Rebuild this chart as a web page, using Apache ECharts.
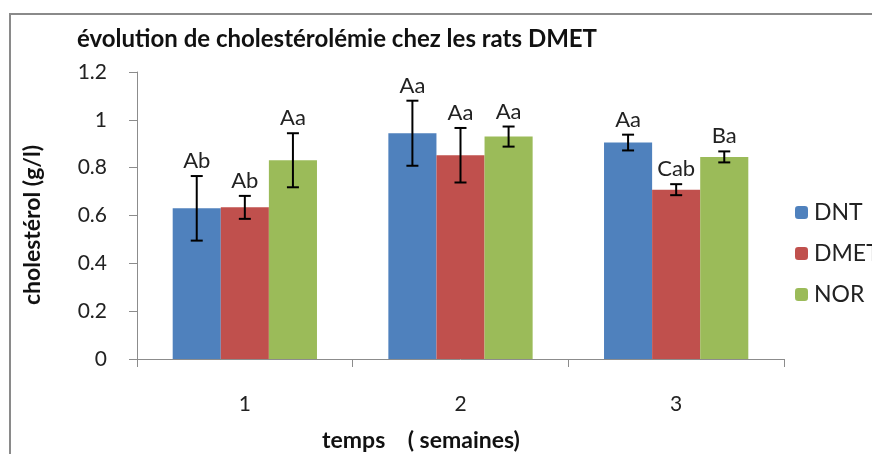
<!DOCTYPE html>
<html>
<head>
<meta charset="utf-8">
<script src="https://cdn.jsdelivr.net/npm/echarts@6/dist/echarts.min.js"></script>
<style>
  html, body { margin: 0; padding: 0; background: #fff; }
  #chart { width: 872px; height: 454px; }
</style>
</head>
<body>
<div id="chart"></div>
<script>
// Weeks on the x axis
const weeks = ['1', '2', '3'];
const seriesNames = ['DNT', 'DMET', 'NOR'];

// Mean cholesterol (g/l) per group
const dntValues = [0.63, 0.944, 0.905];
const dmetValues = [0.634, 0.852, 0.708];
const norValues = [0.831, 0.93, 0.845];

// Error bar half-widths (standard deviation)
const dntErrors = [0.135, 0.136, 0.033];
const dmetErrors = [0.048, 0.114, 0.023];
const norErrors = [0.113, 0.042, 0.023];

// Significance letters above each bar
const dntLetters = ['Ab', 'Aa', 'Aa'];
const dmetLetters = ['Ab', 'Aa', 'Cab'];
const norLetters = ['Aa', 'Aa', 'Ba'];

// Y axis ticks
const yMin = 0, yMax = 1.2, yStep = 0.2;

const colors = ['#4F81BD', '#C0504D', '#9BBB59'];
const FONT = 'Lato, "Liberation Sans", sans-serif';
const BAR_FRAC = 0.223;

const valueSets = [dntValues, dmetValues, norValues];
const errorSets = [dntErrors, dmetErrors, norErrors];
const letterSets = [dntLetters, dmetLetters, norLetters];

const chart = echarts.init(document.getElementById('chart'), null, { renderer: 'canvas' });

function errorSeries(idx) {
  const data = weeks.map((w, i) => [i, valueSets[idx][i], errorSets[idx][i]]);
  return {
    type: 'custom',
    name: seriesNames[idx] + ' err',
    z: 10,
    silent: true,
    data: data,
    encode: { x: 0, y: 1 },
    renderItem: function (params, api) {
      const ci = api.value(0);
      const v = api.value(1);
      const e = api.value(2);
      const band = api.size([1, 0])[0];
      const bw = band * BAR_FRAC;
      const center = api.coord([ci, 0])[0] + (idx - 1) * bw;
      const top = api.coord([ci, v + e])[1];
      const bot = api.coord([ci, v - e])[1];
      const half = 6;
      const st = { stroke: '#000', lineWidth: 2 };
      return {
        type: 'group',
        children: [
          { type: 'line', shape: { x1: center, y1: top, x2: center, y2: bot }, style: st },
          { type: 'line', shape: { x1: center - half, y1: top, x2: center + half, y2: top }, style: st },
          { type: 'line', shape: { x1: center - half, y1: bot, x2: center + half, y2: bot }, style: st },
          {
            type: 'text',
            style: {
              text: letterSets[idx][ci],
              x: center, y: top - 4,
              align: 'center', verticalAlign: 'bottom',
              fill: '#222', font: '22px ' + FONT
            }
          }
        ]
      };
    }
  };
}

const barSeries = seriesNames.map((n, idx) => ({
  type: 'bar',
  name: n,
  data: valueSets[idx],
  barWidth: (BAR_FRAC * 100) + '%',
  barGap: '0%',
  itemStyle: { color: colors[idx] }
}));

chart.setOption({
  animation: false,
  color: colors,
  grid: { left: 137, right: 88, top: 72, bottom: 95 },
  legend: {
    orient: 'vertical',
    left: 790,
    top: 196,
    itemWidth: 13,
    itemHeight: 13,
    itemGap: 18,
    data: seriesNames,
    textStyle: { fontSize: 23, fontFamily: FONT, color: '#222', padding: [0, 0, 0, 1] }
  },
  xAxis: {
    type: 'category',
    data: weeks,
    axisLine: { lineStyle: { color: '#8c8c8c', width: 1 } },
    axisTick: { show: true, length: 8, lineStyle: { color: '#8c8c8c' } },
    axisLabel: { margin: 35, fontSize: 21, fontFamily: FONT, color: '#222' }
  },
  yAxis: {
    type: 'value',
    min: yMin, max: yMax, interval: yStep,
    splitLine: { show: false },
    axisLine: { show: true, lineStyle: { color: '#8c8c8c', width: 1 } },
    axisTick: { show: true, length: 8, lineStyle: { color: '#8c8c8c' } },
    axisLabel: { margin: 30, fontSize: 21, fontFamily: FONT, color: '#222' }
  },
  graphic: [
    {
      type: 'rect', z: -10, silent: true,
      shape: { x: 10, y: 14, width: 900, height: 500 },
      style: { fill: 'none', stroke: '#8a8a8a', lineWidth: 2 }
    },
    {
      type: 'text', x: 77, y: 39,
      style: { text: 'évolution de cholestérolémie chez les rats DMET', font: 'bold 24px ' + FONT, fill: '#111', verticalAlign: 'middle' }
    },
    {
      type: 'text', x: 33, y: 225, rotation: Math.PI / 2,
      style: { text: 'cholestérol (g/l)', font: 'bold 23px ' + FONT, fill: '#111', align: 'center', verticalAlign: 'middle' }
    },
    {
      type: 'text', x: 421, y: 441,
      style: { text: 'temps    ( semaines)', font: 'bold 23px ' + FONT, fill: '#111', align: 'center', verticalAlign: 'middle' }
    }
  ],
  series: barSeries.concat([errorSeries(0), errorSeries(1), errorSeries(2)])
});
</script>
</body>
</html>
